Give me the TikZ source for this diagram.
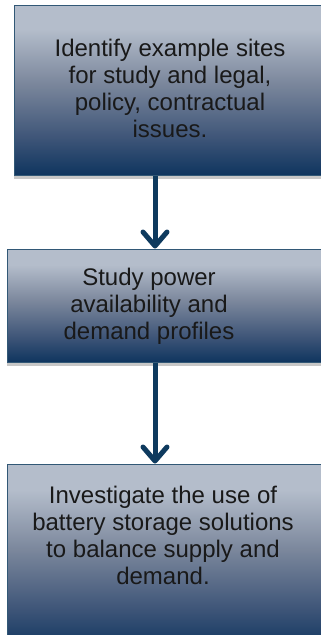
\documentclass[tikz,border=0pt]{standalone}
\usepackage{fontspec}
\setmainfont{Liberation Sans}
\usepackage{xcolor}
\usepackage{tikz}
\usetikzlibrary{positioning,arrows.meta,shadows}

\definecolor{navy}{HTML}{0E3A5E}
\definecolor{bxlight}{HTML}{B4BDCB}
\definecolor{bxmid}{HTML}{7B879C}
\definecolor{bxlow}{HTML}{3E5578}
\definecolor{bxdark}{HTML}{0F355F}
\pgfdeclareverticalshading{boxfade}{100bp}{color(0bp)=(bxdark); color(25bp)=(bxdark);
  color(36bp)=(bxlow); color(52bp)=(bxmid); color(68bp)=(bxlight); color(100bp)=(bxlight)}

\begin{document}
\begin{tikzpicture}[
    x=1pt, y=-1pt,
    every node/.style={font=\fontsize{24}{27}\selectfont},
    box/.style={draw=navy!85, line width=1pt, shading=boxfade, inner sep=0pt,
                drop shadow={shadow xshift=0pt, shadow yshift=-4pt, fill=black, opacity=0.22}},
    txt/.style={align=center, text=black!90, inner sep=0pt},
    arr/.style={-{Straight Barb[length=14pt, width=24pt, line cap=round, line join=round]},
                line width=5pt, draw=navy},
]
\useasboundingbox (0,0) rectangle (321,635);
\clip (0,0) rectangle (321,635);
\fill[white] (0,0) rectangle (321,635);
\node[box, minimum width=316pt, minimum height=170pt] (b1) at (172,90) {};
\node[box, minimum width=323pt, minimum height=113pt] (b2) at (168.5,305.5) {};
\node[box, minimum width=323pt, minimum height=186pt] (b3) at (168.5,557) {};
\node[txt] (t1) at (170,88) {Identify example sites\\for study and legal,\\policy, contractual\\issues.};
\node[txt] (t2) at (149,306) {Study power\\availability and\\demand profiles};
\node[txt] (t3) at (163,535) {Investigate the use of\\battery storage solutions\\to balance supply and\\demand.};
\coordinate (ax) at (155,0);
\draw[arr] (ax |- b1.south) -- (ax |- b2.north);
\draw[arr] (ax |- b2.south) -- (ax |- b3.north);
\end{tikzpicture}
\end{document}
